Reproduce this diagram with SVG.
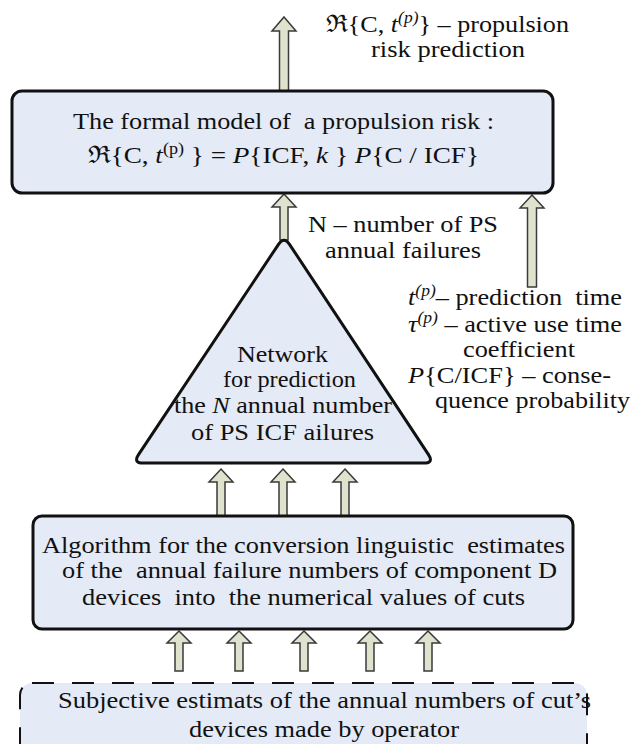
<svg xmlns="http://www.w3.org/2000/svg" width="631" height="744" viewBox="0 0 631 744" font-family="Liberation Serif" font-size="24">
<style>
text{fill:#111}
.box{fill:#e4eaf6;stroke:#111;stroke-width:3}
.dash{fill:#e4eaf6;stroke:#111;stroke-width:2;stroke-dasharray:22 18}
.arr{fill:#dfe2cc;stroke:#3a3a3a;stroke-width:1.5;stroke-linejoin:miter}
.i{font-style:italic}
.sup{font-size:16px}
.m{text-anchor:middle}
</style>
<rect width="631" height="744" fill="#ffffff"/>
<g id="connectors">
<polygon class="arr" points="284,17 296,31 288.5,31 288.5,92 279.5,92 279.5,31 272,31"/>
<polygon class="arr" points="284,194 296,207 288,207 288,240 280,240 280,207 272,207"/>
<polygon class="arr" points="532,195 544,208 536.5,208 536.5,287 527.5,287 527.5,208 520,208"/>
<polygon class="arr" points="221,469 233,482 225,482 225,517 217,517 217,482 209,482"/>
<polygon class="arr" points="283,469 295,482 287,482 287,517 279,517 279,482 271,482"/>
<polygon class="arr" points="345,469 357,482 349,482 349,517 341,517 341,482 333,482"/>
<polygon class="arr" points="179,631 191,643 183,643 183,671 175,671 175,643 167,643"/>
<polygon class="arr" points="239,631 251,643 243,643 243,671 235,671 235,643 227,643"/>
<polygon class="arr" points="304,631 316,643 308,643 308,671 300,671 300,643 292,643"/>
<polygon class="arr" points="370,631 382,643 374,643 374,671 366,671 366,643 358,643"/>
<polygon class="arr" points="428,631 440,643 432,643 432,671 424,671 424,643 416,643"/>
</g>
<g id="label-output">
<text style="font-family:'Liberation Serif';font-size:24px" x="447.5" y="32" class="m" textLength="243" lengthAdjust="spacingAndGlyphs">ℜ{C, <tspan class="i">t</tspan><tspan class="i sup" dy="-9">(p)</tspan><tspan dy="9">} – propulsion</tspan></text>
<text style="font-family:'Liberation Serif';font-size:24px" x="448" y="57" class="m" textLength="154" lengthAdjust="spacingAndGlyphs">risk prediction</text>
</g>
<g id="formal-model">
<rect class="box" x="12" y="91" width="541" height="102" rx="10"/>
<text style="font-family:'Liberation Serif';font-size:24px" x="283.5" y="129" class="m" xml:space="preserve" textLength="421" lengthAdjust="spacingAndGlyphs">The formal model of  a propulsion risk :</text>
<text style="font-family:'Liberation Serif';font-size:24px" x="283.5" y="163" class="m" textLength="391" lengthAdjust="spacingAndGlyphs">ℜ{C, <tspan class="i">t</tspan><tspan class="sup" dy="-9">(p)</tspan><tspan dy="9"> } = </tspan><tspan class="i">P</tspan>{ICF, <tspan class="i">k</tspan> } <tspan class="i">P</tspan>{C / ICF}</text>
</g>
<g id="label-n">
<text style="font-family:'Liberation Serif';font-size:24px" x="403" y="232" class="m" textLength="190" lengthAdjust="spacingAndGlyphs">N – number of PS</text>
<text style="font-family:'Liberation Serif';font-size:24px" x="403" y="258" class="m" textLength="156" lengthAdjust="spacingAndGlyphs">annual failures</text>
</g>
<g id="label-params">
<text style="font-family:'Liberation Serif';font-size:24px" x="515" y="305" class="m" xml:space="preserve" textLength="214" lengthAdjust="spacingAndGlyphs"><tspan class="i">t</tspan><tspan class="i sup" dy="-9">(p)</tspan><tspan dy="9">– prediction  time</tspan></text>
<text style="font-family:'Liberation Serif';font-size:24px" x="515" y="332" class="m" textLength="214" lengthAdjust="spacingAndGlyphs"><tspan class="i">τ</tspan><tspan class="i sup" dy="-9">(p)</tspan><tspan dy="9"> – active use time</tspan></text>
<text style="font-family:'Liberation Serif';font-size:24px" x="519" y="357" class="m" textLength="112" lengthAdjust="spacingAndGlyphs">coefficient</text>
<text style="font-family:'Liberation Serif';font-size:24px" x="509.5" y="383" class="m" textLength="203" lengthAdjust="spacingAndGlyphs"><tspan class="i">P</tspan>{C/ICF} – conse-</text>
<text style="font-family:'Liberation Serif';font-size:24px" x="532.5" y="408" class="m" textLength="195" lengthAdjust="spacingAndGlyphs">quence probability</text>
</g>
<g id="network">
<path class="box" d="M 278.5 244.3 Q 284 236 289.5 244.3 L 428.5 454.7 Q 434 463 424 463 L 143 463 Q 133 463 138.5 454.7 Z"/>
<text style="font-family:'Liberation Serif';font-size:24px" x="282.5" y="362" class="m" textLength="91" lengthAdjust="spacingAndGlyphs">Network</text>
<text style="font-family:'Liberation Serif';font-size:24px" x="289.5" y="387" class="m" textLength="133" lengthAdjust="spacingAndGlyphs">for prediction</text>
<text style="font-family:'Liberation Serif';font-size:24px" x="283" y="413" class="m" textLength="218" lengthAdjust="spacingAndGlyphs">the <tspan class="i">N</tspan> annual number</text>
<text style="font-family:'Liberation Serif';font-size:24px" x="282.5" y="440" class="m" textLength="183" lengthAdjust="spacingAndGlyphs">of PS ICF ailures</text>
</g>
<g id="algorithm">
<rect class="box" x="33" y="516" width="540" height="113" rx="9"/>
<text style="font-family:'Liberation Serif';font-size:24px" x="303.5" y="553" class="m" xml:space="preserve" textLength="523" lengthAdjust="spacingAndGlyphs">Algorithm for the conversion linguistic  estimates</text>
<text style="font-family:'Liberation Serif';font-size:24px" x="309.5" y="578" class="m" xml:space="preserve" textLength="495" lengthAdjust="spacingAndGlyphs">of the  annual failure numbers of component D</text>
<text style="font-family:'Liberation Serif';font-size:24px" x="303.5" y="605" class="m" xml:space="preserve" textLength="443" lengthAdjust="spacingAndGlyphs">devices  into  the numerical values of cuts</text>
</g>
<g id="subjective-estimates">
<rect class="dash" x="20" y="683" width="567" height="80" rx="12"/>
<text style="font-family:'Liberation Serif';font-size:24px" x="324.5" y="708" class="m" textLength="533" lengthAdjust="spacingAndGlyphs">Subjective estimats of the annual numbers of cut’s</text>
<text style="font-family:'Liberation Serif';font-size:24px" x="324" y="737" class="m" textLength="270" lengthAdjust="spacingAndGlyphs">devices made by operator</text>
</g>
</svg>
